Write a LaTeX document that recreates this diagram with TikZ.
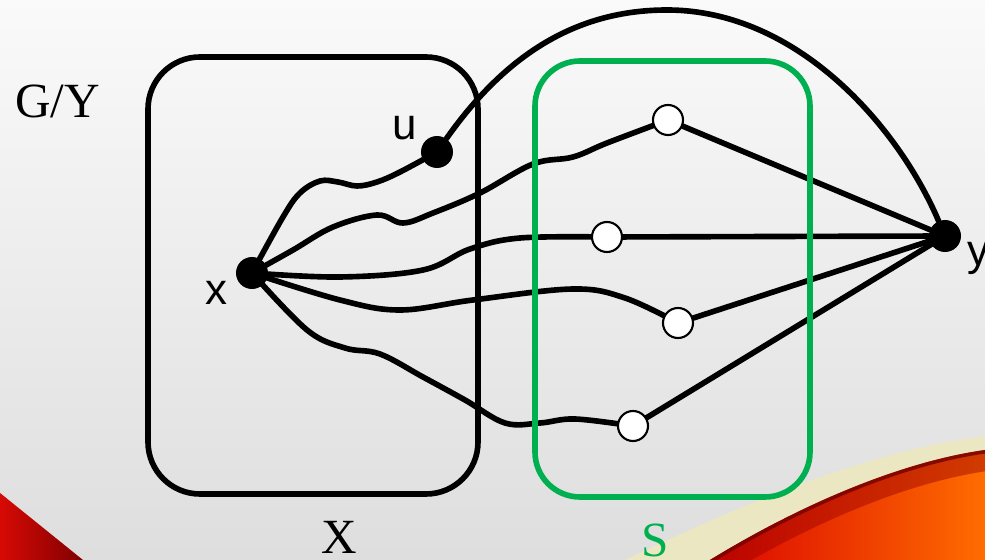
\documentclass[tikz,border=0pt]{standalone}
\usepackage{fontspec}
\setmainfont{Liberation Serif}
\setsansfont{Liberation Sans}

\pgfdeclarelayer{back}
\pgfdeclarelayer{wires}
\pgfsetlayers{back,wires,main}

\definecolor{setgreen}{RGB}{0,176,80}
\definecolor{swcream}{RGB}{234,231,194}
\definecolor{swred}{RGB}{215,10,5}

\tikzset{
	blackdot/.style={circle, fill=black, inner sep=0pt, minimum size=0.64cm},
	whitedot/.style={circle, draw=black, fill=white, line width=1.2pt, inner sep=0pt, minimum size=0.6cm},
	wire/.style={line width=3.2pt, line cap=round, line join=round},
	setbox/.style={line width=3.2pt},
	vlabel/.style={inner sep=0pt, font=\sffamily\fontsize{25}{25}\selectfont},
	setlabel/.style={inner sep=0pt, font=\fontsize{28}{30}\selectfont}
}

\begin{document}
\begin{tikzpicture}[x=0.02cm, y=-0.02cm]

	\useasboundingbox (0,0) rectangle (985,560);

	% background
	\begin{pgfonlayer}{back}

		\shade[top color=black!2, bottom color=black!13] (0,0) rectangle (985,560);

		\shade[left color=swred, right color=red!50!black] (0,493) -- (83,560) -- (0,560) -- cycle;

		\fill[swcream] (625,560) .. controls (740,505) and (870,450) .. (985,436) -- (985,560) -- cycle;

		\begin{scope}
			\clip (710,560) .. controls (800,505) and (900,462) .. (985,450) -- (985,560) -- cycle;
			\shade[left color=red!85!black, right color=orange!85!red] (700,440) rectangle (985,560);
			\draw[red!60!black, line width=24pt, opacity=0.45] (710,560) .. controls (800,505) and (900,462) .. (985,450);
			\draw[red!45!black, line width=4pt, opacity=0.8] (710,560) .. controls (800,505) and (900,462) .. (985,450);
		\end{scope}

	\end{pgfonlayer}

	% define point
	\node[blackdot] (x) at (252,273) {};

	\node[blackdot] (u) at (437,152) {};

	\node[blackdot] (y) at (945,236) {};

	\node[whitedot] (s1) at (668,120) {};

	\node[whitedot] (s2) at (607,237) {};

	\node[whitedot] (s3) at (678,323) {};

	\node[whitedot] (s4) at (633,426) {};

	\coordinate (top) at (667,10);

	% labels
	\node[vlabel] (xl) at (216,293) {x};

	\node[vlabel] (ul) at (405,128) {u};

	\node[vlabel] (yl) at (978,258) {y};

	\node[setlabel, anchor=base west] (gy) at (15,118) {G/Y};

	\node[setlabel, anchor=base] (xset) at (339,554) {X};

	\node[setlabel, anchor=base, text=setgreen] (sset) at (655,557) {S};

	% sets
	\draw[setbox, rounded corners=1.04cm] (148,57) rectangle (478,494);

	\draw[setbox, setgreen, rounded corners=0.9cm] (535,61) rectangle (810,497);

	% paths
	\begin{pgfonlayer}{wires}

		\draw[wire] plot[smooth, tension=0.6] coordinates {(x.center) (283,217) (300,193) (320,181) (338,182) (357,186) (377,182) (400,172) (u.center)};

		\draw[wire] (u) .. controls (506,54) and (577,10) .. (top) .. controls (797,10) and (898,126) .. (y);

		\draw[wire] plot[smooth, tension=0.6] coordinates {(x.center) (293,250) (333,227) (377,215) (403,223) (433,213) (480,193) (533,164) (573,157) (607,143) (s1.center)};

		\draw[wire] plot[smooth, tension=0.6] coordinates {(x.center) (340,277) (423,270) (470,249) (520,238) (s2.center)};

		\draw[wire] plot[smooth, tension=0.6] coordinates {(x.center) (340,300) (400,310) (473,300) (573,289) (625,298) (s3.center)};

		\draw[wire] plot[smooth, tension=0.6] coordinates {(x.center) (307,330) (345,348) (380,354) (423,377) (465,400) (505,423) (540,423) (575,419) (s4.center)};

		\draw[wire] (s1) -- (y);

		\draw[wire] (s2) -- (y);

		\draw[wire] (s3) -- (y);

		\draw[wire] (s4) -- (y);

	\end{pgfonlayer}

\end{tikzpicture}
\end{document}
